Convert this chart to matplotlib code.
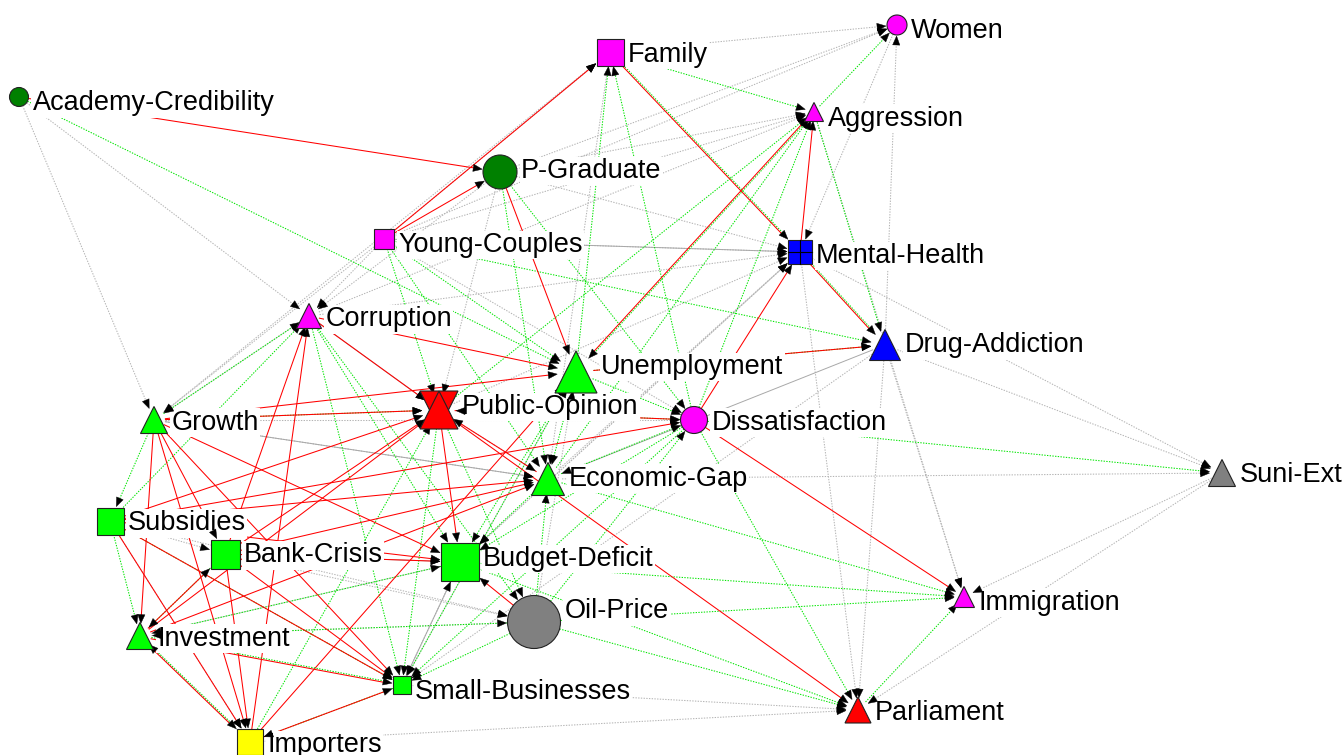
import numpy as np
import matplotlib
matplotlib.use('Agg')
import matplotlib.pyplot as plt
from matplotlib.patches import Circle, Rectangle, Polygon

# ノード
node_names = ['Women', 'Family', 'Academy-Credibility', 'Aggression', 'P-Graduate',
              'Young-Couples', 'Mental-Health', 'Corruption', 'Drug-Addiction',
              'Unemployment', 'Growth', 'Public-Opinion', 'Dissatisfaction',
              'Economic-Gap', 'Suni-Ext', 'Subsidies', 'Bank-Crisis', 'Budget-Deficit',
              'Oil-Price', 'Immigration', 'Investment', 'Small-Businesses',
              'Parliament', 'Importers']
node_x = [897, 610, 19, 814, 500, 384, 800, 309, 885, 576, 154, 439, 694,
          548, 1222, 110, 225, 460, 534, 964, 140, 402, 858, 250]
node_y = [25, 52, 97, 112, 172, 239, 252, 316, 345, 372, 420, 410, 420,
          479, 473, 521, 554, 562, 622, 597, 636, 685, 710, 742]
node_size = [20, 27, 19, 19, 34, 20, 24, 25, 31, 42, 27, 38, 27,
             33, 27, 27, 29, 38, 53, 21, 27, 18, 26, 26]
node_shape = ['circle', 'square', 'circle', 'triangle', 'circle', 'square', 'square',
              'triangle', 'triangle', 'triangle', 'triangle', 'hourglass', 'circle',
              'triangle', 'triangle', 'square', 'square', 'square', 'circle',
              'triangle', 'triangle', 'square', 'triangle', 'square']
node_color = ['#ff00ff', '#ff00ff', '#008000', '#ff00ff', '#008000', '#ff00ff', '#0000ff',
              '#ff00ff', '#0000ff', '#00ff00', '#00ff00', '#ff0000', '#ff00ff',
              '#00ff00', '#808080', '#00ff00', '#00ff00', '#00ff00', '#808080',
              '#ff00ff', '#00ff00', '#00ff00', '#ff0000', '#ffff00']

# エッジ（始点, 終点）
red_edges = [
    ('Academy-Credibility', 'P-Graduate'), ('Young-Couples', 'P-Graduate'),
    ('Young-Couples', 'Family'), ('P-Graduate', 'Unemployment'),
    ('Mental-Health', 'Aggression'), ('Dissatisfaction', 'Mental-Health'),
    ('Unemployment', 'Drug-Addiction'), ('Growth', 'Unemployment'),
    ('Growth', 'Public-Opinion'), ('Corruption', 'Public-Opinion'),
    ('Corruption', 'Unemployment'), ('Bank-Crisis', 'Corruption'),
    ('Importers', 'Corruption'), ('Growth', 'Investment'), ('Growth', 'Importers'),
    ('Growth', 'Bank-Crisis'), ('Growth', 'Small-Businesses'), ('Growth', 'Budget-Deficit'),
    ('Subsidies', 'Public-Opinion'), ('Bank-Crisis', 'Public-Opinion'),
    ('Investment', 'Public-Opinion'), ('Importers', 'Unemployment'),
    ('Subsidies', 'Economic-Gap'), ('Bank-Crisis', 'Economic-Gap'),
    ('Investment', 'Economic-Gap'), ('Subsidies', 'Dissatisfaction'),
    ('Public-Opinion', 'Dissatisfaction'), ('Dissatisfaction', 'Immigration'),
    ('Public-Opinion', 'Parliament'), ('Oil-Price', 'Budget-Deficit'),
    ('Bank-Crisis', 'Budget-Deficit'), ('Subsidies', 'Budget-Deficit'),
    ('Bank-Crisis', 'Small-Businesses'), ('Subsidies', 'Small-Businesses'),
    ('Importers', 'Small-Businesses'), ('Subsidies', 'Importers'),
    ('Bank-Crisis', 'Importers'), ('Investment', 'Bank-Crisis'),
    ('Public-Opinion', 'Budget-Deficit'), ('Economic-Gap', 'Public-Opinion'),
]
red_green_edges = [
    ('Family', 'Mental-Health'), ('Mental-Health', 'Drug-Addiction'),
    ('Aggression', 'Unemployment'), ('Investment', 'Importers'),
    ('Investment', 'Small-Businesses'),
]
green_edges = [
    ('Academy-Credibility', 'Unemployment'), ('Family', 'Aggression'),
    ('Aggression', 'Women'), ('Unemployment', 'Family'), ('Dissatisfaction', 'Family'),
    ('Public-Opinion', 'Aggression'), ('Economic-Gap', 'Aggression'),
    ('Dissatisfaction', 'Aggression'), ('Aggression', 'Drug-Addiction'),
    ('Young-Couples', 'Drug-Addiction'), ('Dissatisfaction', 'Suni-Ext'),
    ('Oil-Price', 'Parliament'), ('Budget-Deficit', 'Parliament'),
    ('Parliament', 'Immigration'), ('Budget-Deficit', 'Immigration'),
    ('Economic-Gap', 'Immigration'), ('Oil-Price', 'Immigration'),
    ('Growth', 'Corruption'), ('Subsidies', 'Corruption'), ('Growth', 'Subsidies'),
    ('Subsidies', 'Investment'), ('Growth', 'Public-Opinion'),
    ('Corruption', 'Budget-Deficit'), ('Corruption', 'Oil-Price'),
    ('Young-Couples', 'Public-Opinion'), ('Young-Couples', 'Unemployment'),
    ('Young-Couples', 'Economic-Gap'), ('P-Graduate', 'Dissatisfaction'),
    ('P-Graduate', 'Economic-Gap'), ('Public-Opinion', 'Small-Businesses'),
    ('Public-Opinion', 'Oil-Price'), ('Unemployment', 'Economic-Gap'),
    ('Unemployment', 'Dissatisfaction'), ('Unemployment', 'Budget-Deficit'),
    ('Unemployment', 'Small-Businesses'), ('Economic-Gap', 'Budget-Deficit'),
    ('Oil-Price', 'Economic-Gap'), ('Oil-Price', 'Small-Businesses'),
    ('Oil-Price', 'Dissatisfaction'), ('Oil-Price', 'Investment'),
    ('Subsidies', 'Small-Businesses'), ('Dissatisfaction', 'Budget-Deficit'),
    ('Dissatisfaction', 'Small-Businesses'), ('Dissatisfaction', 'Public-Opinion'),
    ('Small-Businesses', 'Importers'), ('Importers', 'Public-Opinion'),
    ('Bank-Crisis', 'Investment'), ('Corruption', 'Small-Businesses'),
    ('Dissatisfaction', 'Parliament'), ('Unemployment', 'Drug-Addiction'),
    ('Economic-Gap', 'Dissatisfaction'), ('Budget-Deficit', 'Investment'),
]
grey_edges = [
    ('Family', 'Women'), ('P-Graduate', 'Women'), ('Young-Couples', 'Women'),
    ('Young-Couples', 'Aggression'), ('P-Graduate', 'Aggression'),
    ('Corruption', 'Aggression'), ('Drug-Addiction', 'Women'),
    ('Academy-Credibility', 'Corruption'), ('Academy-Credibility', 'Growth'),
    ('Young-Couples', 'Family'), ('Growth', 'Family'), ('P-Graduate', 'Mental-Health'),
    ('Young-Couples', 'Mental-Health'), ('Corruption', 'Mental-Health'),
    ('Public-Opinion', 'Mental-Health'), ('Economic-Gap', 'Mental-Health'),
    ('Budget-Deficit', 'Mental-Health'), ('Growth', 'Economic-Gap'),
    ('Drug-Addiction', 'Suni-Ext'), ('Mental-Health', 'Suni-Ext'),
    ('Economic-Gap', 'Suni-Ext'), ('Suni-Ext', 'Immigration'), ('Suni-Ext', 'Parliament'),
    ('Drug-Addiction', 'Immigration'), ('Drug-Addiction', 'Parliament'),
    ('Mental-Health', 'Parliament'), ('Importers', 'Parliament'),
    ('Small-Businesses', 'Parliament'), ('Subsidies', 'Bank-Crisis'),
    ('Subsidies', 'Importers'), ('Investment', 'Budget-Deficit'),
    ('Bank-Crisis', 'Oil-Price'), ('Subsidies', 'Oil-Price'),
    ('Young-Couples', 'Corruption'), ('Young-Couples', 'Growth'),
    ('P-Graduate', 'Public-Opinion'), ('P-Graduate', 'Corruption'),
    ('Young-Couples', 'Dissatisfaction'), ('Public-Opinion', 'Economic-Gap'),
    ('Budget-Deficit', 'Small-Businesses'), ('Oil-Price', 'Unemployment'),
    ('Growth', 'Dissatisfaction'), ('Corruption', 'Growth'), ('Investment', 'Oil-Price'),
    ('Family', 'Economic-Gap'), ('Women', 'Mental-Health'), ('Aggression', 'Immigration'),
    ('Mental-Health', 'Budget-Deficit'), ('Drug-Addiction', 'Small-Businesses'),
    ('Small-Businesses', 'Unemployment'), ('Importers', 'Investment'),
]
solid_grey_edges = [
    ('Young-Couples', 'Mental-Health'), ('Corruption', 'Public-Opinion'),
    ('Growth', 'Economic-Gap'), ('Bank-Crisis', 'Budget-Deficit'),
    ('Drug-Addiction', 'Economic-Gap'), ('Small-Businesses', 'Budget-Deficit'),
]

idx = {n: i for i, n in enumerate(node_names)}


def boundary(i, ux, uy):
    # ノード中心から境界までの距離（ざっくり）
    s = node_size[i] / 2.0
    sh = node_shape[i]
    if sh == 'circle':
        return s
    if sh == 'square':
        return s / max(abs(ux), abs(uy), 1e-6)
    return s * 0.85


def draw_edge(ax, a, b, color, ls, lw=0.75, offset=0.0):
    i, j = idx[a], idx[b]
    x0, y0, x1, y1 = node_x[i], node_y[i], node_x[j], node_y[j]
    d = np.hypot(x1 - x0, y1 - y0)
    ux, uy = (x1 - x0) / d, (y1 - y0) / d
    nx, ny = -uy * offset, ux * offset
    sa = boundary(i, ux, uy)
    sb = boundary(j, ux, uy) + 1
    xs = [x0 + ux * sa + nx, x1 - ux * (sb + 6) + nx]
    ys = [y0 + uy * sa + ny, y1 - uy * (sb + 6) + ny]
    ax.plot(xs, ys, color=color, linestyle=ls, lw=lw, zorder=1)
    return (x1 - ux * sb, y1 - uy * sb, ux, uy)


fig = plt.figure(figsize=(13.42, 7.55), dpi=100)
ax = fig.add_axes([0, 0, 1, 1])
ax.set_xlim(0, 1342)
ax.set_ylim(755, 0)
ax.axis('off')

dot = (0, (1.3, 1.3))
heads = []
for a, b in grey_edges:
    heads.append(draw_edge(ax, a, b, '#b4b4b4', dot))
for a, b in solid_grey_edges:
    heads.append(draw_edge(ax, a, b, '#a8a8a8', '-', lw=0.7))
for a, b in green_edges:
    heads.append(draw_edge(ax, a, b, '#00e600', dot))
for a, b in red_edges:
    heads.append(draw_edge(ax, a, b, '#ff0000', '-'))
for a, b in red_green_edges:
    heads.append(draw_edge(ax, a, b, '#ff0000', '-', offset=0.7))
    draw_edge(ax, a, b, '#00e600', dot, offset=-0.7)

# 矢印（黒い三角）
L, W = 9.0, 3.6
for tx, ty, ux, uy in heads:
    bx, by = tx - ux * L, ty - uy * L
    pts = [(tx, ty), (bx - uy * W, by + ux * W), (bx + uy * W, by - ux * W)]
    ax.add_patch(Polygon(pts, closed=True, fc='black', ec='black', lw=0.3, zorder=4))

# ラベル
for i, n in enumerate(node_names):
    s = node_size[i]
    ax.text(node_x[i] + s / 2 + 4, node_y[i] - s / 2 + 23, n,
            family=['Liberation Sans', 'DejaVu Sans'], fontsize=19.5,
            ha='left', va='baseline', color='black', zorder=3,
            bbox=dict(boxstyle='square,pad=0.05', fc='white', ec='none'))

# ノード
for i in range(len(node_names)):
    x, y, s, c = node_x[i], node_y[i], node_size[i], node_color[i]
    h = s / 2.0
    kw = dict(fc=c, ec='#222222', lw=0.8, zorder=5)
    sh = node_shape[i]
    if sh == 'circle':
        ax.add_patch(Circle((x, y), h, **kw))
    elif sh == 'square':
        ax.add_patch(Rectangle((x - h, y - h), s, s, **kw))
        if node_names[i] == 'Mental-Health':
            ax.plot([x, x], [y - h, y + h], color='black', lw=0.8, zorder=6)
            ax.plot([x - h, x + h], [y, y], color='black', lw=0.8, zorder=6)
    elif sh == 'triangle':
        ax.add_patch(Polygon([(x, y - h), (x - h, y + h), (x + h, y + h)], **kw))
    elif sh == 'hourglass':
        ax.add_patch(Polygon([(x - h, y - h), (x + h, y - h), (x, y + h)], **kw))
        ax.add_patch(Polygon([(x - h, y + h), (x + h, y + h), (x, y - h)], **kw))

fig.savefig('out.png', dpi=100, facecolor='white')
